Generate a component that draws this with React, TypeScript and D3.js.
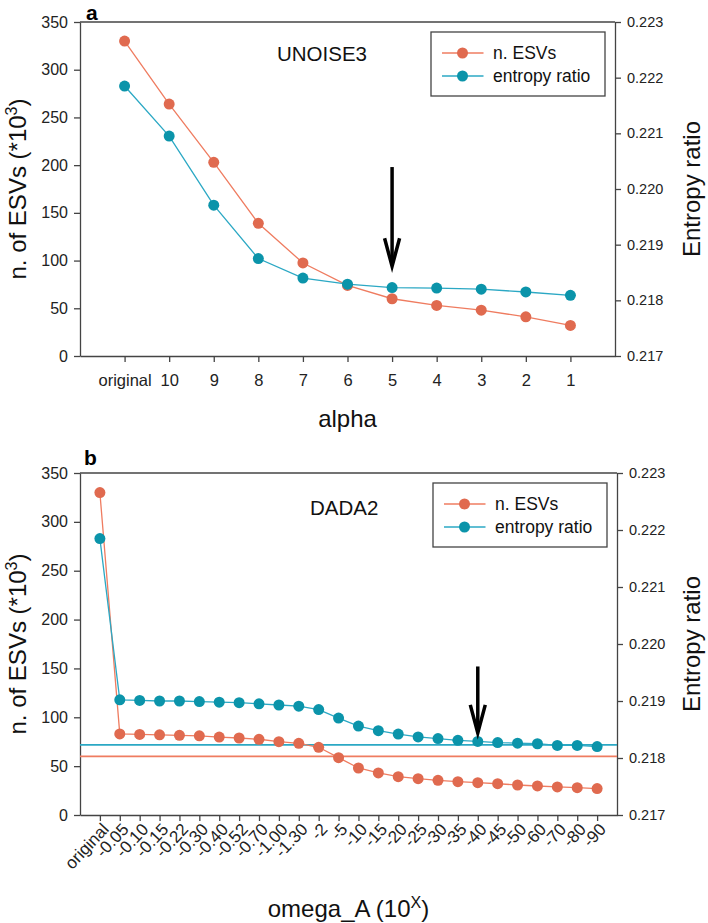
import React, { useRef, useEffect } from "react";
import * as d3 from "d3";

// panel a: UNOISE3 over alpha
const alphaLabels = ["original", "10", "9", "8", "7", "6", "5", "4", "3", "2", "1"];
const unoiseEsvs = [330, 264, 203, 139, 97.5, 74, 60, 53, 48, 41, 32];
const unoiseEntropy = [0.22185, 0.22095, 0.21971, 0.21875, 0.2184, 0.21829, 0.21823, 0.21822, 0.2182, 0.21815, 0.21809];

// panel b: DADA2 over omega_A
const omegaLabels = ["original", "-0.05", "-0.10", "-0.15", "-0.22", "-0.30", "-0.40", "-0.52", "-0.70", "-1.00", "-1.30", "-2", "-5", "-10", "-15", "-20", "-25", "-30", "-35", "-40", "-45", "-50", "-60", "-70", "-80", "-90"];
const dadaEsvs = [330, 83, 82.5, 82, 81.5, 81, 79.8, 78.8, 77.5, 75, 73.4, 69.3, 58.7, 48.1, 43, 39.2, 37.2, 35.5, 34.1, 33.1, 32, 30.7, 29.7, 28.7, 28, 27];
const dadaEntropy = [0.22185, 0.21902, 0.21901, 0.219, 0.219, 0.21899, 0.21898, 0.21897, 0.21895, 0.21893, 0.21891, 0.21885, 0.2187, 0.21856, 0.21848, 0.21842, 0.21837, 0.21834, 0.21831, 0.21829, 0.21827, 0.21826, 0.21825, 0.21822, 0.21822, 0.2182];

const esvTicks = [0, 50, 100, 150, 200, 250, 300, 350];
const entropyTicks = [0.217, 0.218, 0.219, 0.22, 0.221, 0.222, 0.223];
const seriesNames = ["n. ESVs", "entropy ratio"];

const RED = "#e06a4f";
const RED_LINE = "#ef7c60";
const TEAL = "#0b94aa";
const TEAL_LINE = "#2ba8c4";
const AXIS = "#444";
const FONT = "'Liberation Sans', Arial, sans-serif";

function drawPanel(svg, cfg) {
    const { top, bottom, left, right, labels, esvs, entropy } = cfg;

    let x = d3.scalePoint().domain(labels).range([left, right]).padding(1);
    let yL = d3.scaleLinear().domain([0, 350]).range([bottom, top]);
    let yR = d3.scaleLinear().domain([0.217, 0.223]).range([bottom, top]);

    let g = svg.append("g").attr("font-family", FONT);

    // top frame line
    g.append("line")
        .attr("x1", left).attr("x2", right)
        .attr("y1", top).attr("y2", top)
        .attr("stroke", AXIS).attr("stroke-width", 1.3);

    // left axis
    let axL = g.append("g")
        .attr("transform", "translate(" + left + ",0)")
        .call(d3.axisLeft(yL).tickValues(esvTicks).tickSize(6).tickPadding(6).tickSizeOuter(0));
    axL.selectAll("text").attr("font-size", 16).attr("font-family", FONT).attr("fill", "#222");

    // right axis
    let axR = g.append("g")
        .attr("transform", "translate(" + right + ",0)")
        .call(d3.axisRight(yR).tickValues(entropyTicks).tickFormat(d3.format(".3f")).tickSize(6).tickPadding(6).tickSizeOuter(0));
    axR.selectAll("text").attr("font-size", 14.5).attr("font-family", FONT).attr("fill", "#222");

    // bottom axis
    let axB = g.append("g")
        .attr("transform", "translate(0," + bottom + ")")
        .call(d3.axisBottom(x).tickSize(6).tickPadding(8).tickSizeOuter(0));
    if (cfg.rotateLabels) {
        axB.selectAll("text")
            .attr("font-size", 17)
            .attr("text-anchor", "end")
            .attr("dy", "0.35em")
            .attr("transform", "translate(5,11) rotate(-47)")
            .attr("y", 0).attr("x", 0);
    } else {
        axB.selectAll("text").attr("font-size", 16.5).attr("dy", "0.95em");
    }
    axB.selectAll("text").attr("font-family", FONT).attr("fill", "#222");

    g.selectAll(".domain").attr("stroke", AXIS).attr("stroke-width", 1.3);
    g.selectAll(".tick line").attr("stroke", AXIS).attr("stroke-width", 1.3);

    // reference lines (panel b)
    if (cfg.refEsv !== undefined) {
        g.append("line")
            .attr("x1", left).attr("x2", right)
            .attr("y1", yR(cfg.refEntropy)).attr("y2", yR(cfg.refEntropy))
            .attr("stroke", TEAL_LINE).attr("stroke-width", 1.6);
        g.append("line")
            .attr("x1", left).attr("x2", right)
            .attr("y1", yL(cfg.refEsv)).attr("y2", yL(cfg.refEsv))
            .attr("stroke", RED_LINE).attr("stroke-width", 1.6);
    }

    // series
    let series = [
        { vals: esvs, y: yL, line: RED_LINE, fill: RED },
        { vals: entropy, y: yR, line: TEAL_LINE, fill: TEAL },
    ];
    series.forEach(function (s) {
        let lineGen = d3.line()
            .x(function (d, i) { return x(labels[i]); })
            .y(function (d) { return s.y(d); });
        g.append("path")
            .datum(s.vals)
            .attr("d", lineGen)
            .attr("fill", "none")
            .attr("stroke", s.line)
            .attr("stroke-width", 1.3);
        g.selectAll(null)
            .data(s.vals)
            .enter()
            .append("circle")
            .attr("cx", function (d, i) { return x(labels[i]); })
            .attr("cy", function (d) { return s.y(d); })
            .attr("r", 5.5)
            .attr("fill", s.fill);
    });

    // arrow
    let ax = x(cfg.arrow.at);
    let ay1 = yL(cfg.arrow.from);
    let ay2 = yL(cfg.arrow.to);
    g.append("line")
        .attr("x1", ax).attr("x2", ax)
        .attr("y1", ay1).attr("y2", ay2 - 2)
        .attr("stroke", "black").attr("stroke-width", 3.5);
    g.append("path")
        .attr("d", "M" + (ax - 7.5) + "," + (ay2 - 28) + "L" + ax + "," + ay2 + "L" + (ax + 7.5) + "," + (ay2 - 28))
        .attr("fill", "none")
        .attr("stroke", "black")
        .attr("stroke-width", 3.5)
        .attr("stroke-linejoin", "miter");

    // method name
    g.append("text")
        .attr("x", cfg.nameX).attr("y", top + cfg.nameDy)
        .attr("font-size", 20.5).attr("fill", "#111")
        .text(cfg.name);

    // legend
    let lx = right - 184;
    let ly = top + 10;
    g.append("rect")
        .attr("x", lx).attr("y", ly)
        .attr("width", 174).attr("height", 64)
        .attr("fill", "white").attr("stroke", AXIS).attr("stroke-width", 1.3);
    seriesNames.forEach(function (name, i) {
        let ry = ly + 21 + i * 23;
        let s = series[i];
        g.append("line")
            .attr("x1", lx + 11).attr("x2", lx + 52.5)
            .attr("y1", ry).attr("y2", ry)
            .attr("stroke", s.line).attr("stroke-width", 1.3);
        g.append("circle")
            .attr("cx", lx + 31.5).attr("cy", ry).attr("r", 5.5).attr("fill", s.fill);
        g.append("text")
            .attr("x", lx + 62).attr("y", ry + 6)
            .attr("font-size", 17.5).attr("fill", "#111")
            .text(name);
    });

    // panel letter
    g.append("text")
        .attr("x", cfg.letterX).attr("y", cfg.letterY)
        .attr("font-size", 21).attr("font-weight", "bold")
        .text(cfg.letter);

    // y titles
    let midY = (top + bottom) / 2;
    let yt = g.append("text")
        .attr("transform", "translate(26," + midY + ") rotate(-90)")
        .attr("text-anchor", "middle")
        .attr("font-size", 24).attr("fill", "#111");
    yt.append("tspan").text("n. of ESVs (*10");
    yt.append("tspan").attr("dy", -9).attr("font-size", 16).text("3");
    yt.append("tspan").attr("dy", 9).text(")");

    g.append("text")
        .attr("transform", "translate(700," + midY + ") rotate(-90)")
        .attr("text-anchor", "middle")
        .attr("font-size", 24).attr("fill", "#111")
        .text("Entropy ratio");

    // x title
    let xt = g.append("text")
        .attr("x", (left + right) / 2).attr("y", cfg.xTitleY)
        .attr("text-anchor", "middle")
        .attr("font-size", 24).attr("fill", "#111");
    xt.append("tspan").text(cfg.xTitle);
    if (cfg.xTitleSup) {
        xt.append("tspan").attr("dy", -9).attr("font-size", 16).text(cfg.xTitleSup);
        xt.append("tspan").attr("dy", 9).text(")");
    }
}

function App() {
    const ref = useRef(null);

    useEffect(() => {
        let svg = d3.select(ref.current);
        svg.selectAll("*").remove();

        drawPanel(svg, {
            top: 22, bottom: 356, left: 80, right: 615,
            labels: alphaLabels, esvs: unoiseEsvs, entropy: unoiseEntropy,
            arrow: { at: "5", from: 198, to: 94 },
            name: "UNOISE3", nameX: 277, nameDy: 39,
            letter: "a", letterX: 86, letterY: 19.5,
            xTitle: "alpha", xTitleY: 427,
        });

        drawPanel(svg, {
            top: 473, bottom: 815, left: 80, right: 617,
            labels: omegaLabels, esvs: dadaEsvs, entropy: dadaEntropy,
            rotateLabels: true,
            refEsv: unoiseEsvs[6], refEntropy: unoiseEntropy[6],
            arrow: { at: "-40", from: 152, to: 84 },
            name: "DADA2", nameX: 310, nameDy: 42,
            letter: "b", letterX: 84, letterY: 465,
            xTitle: "omega_A (10", xTitleSup: "X", xTitleY: 917,
        });
    }, []);

    return (
        <svg ref={ref} width={708} height={923}
            style={{ position: "absolute", left: 0, top: 0, background: "white" }} />
    );
}

export default App;
